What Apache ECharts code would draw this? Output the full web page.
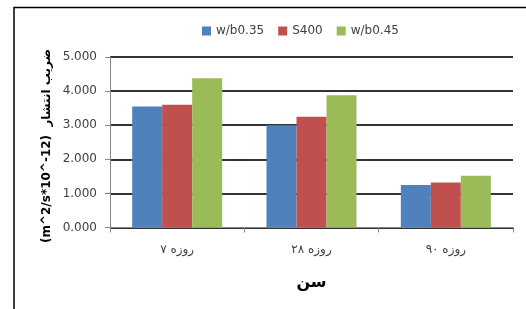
<!DOCTYPE html>
<html><head><meta charset="utf-8">
<script src="https://cdn.jsdelivr.net/npm/echarts@6/dist/echarts.min.js"></script>
<style>html,body{margin:0;padding:0;background:#fff;}#c{width:526px;height:309px;}</style>
</head><body><div id="c"></div>
<script>
const categories = ['۷ روزه', '۲۸ روزه', '۹۰ روزه'];
const seriesNames = ['w/b0.35', 'S400', 'w/b0.45'];
const wb035 = [3.55, 3.00, 1.25];
const s400 = [3.60, 3.25, 1.32];
const wb045 = [4.38, 3.88, 1.52];
const yTicks = { min: 0, max: 5, interval: 1 };
const yName = '(m^2/s*10^-12)  ضریب انتشار';
const xName = 'سن';

const colors = ['#4F81BD', '#C0504D', '#9BBB59'];
const font = 'DejaVu Sans';
const chart = echarts.init(document.getElementById('c'), null, {renderer: 'canvas'});
const values = [wb035, s400, wb045];
chart.setOption({
  animation: false,
  backgroundColor: '#fff',
  textStyle: { fontFamily: font },
  grid: { left: 110, right: 13, top: 57, bottom: 81.5, containLabel: false },
  legend: {
    left: 197, top: 20,
    itemWidth: 9, itemHeight: 9, itemGap: 14,
    icon: 'rect',
    textStyle: { fontFamily: font, fontSize: 12, color: '#404040' },
    data: seriesNames
  },
  xAxis: {
    type: 'category', data: categories,
    name: xName, nameLocation: 'middle', nameGap: 47,
    nameTextStyle: { fontFamily: font, fontSize: 16, fontWeight: 'bold', color: '#000' },
    axisLine: { lineStyle: { color: '#868686', width: 1 } },
    axisTick: { show: true, length: 5, lineStyle: { color: '#868686' } },
    axisLabel: { margin: 16, fontFamily: font, fontSize: 12, color: '#404040' }
  },
  yAxis: {
    type: 'value', min: yTicks.min, max: yTicks.max, interval: yTicks.interval,
    axisLine: { show: true, lineStyle: { color: '#868686' } },
    axisTick: { show: true, length: 5, lineStyle: { color: '#868686' } },
    axisLabel: { margin: 13, fontFamily: font, fontSize: 12, color: '#404040',
      formatter: v => v.toFixed(3) },
    splitLine: { show: true, lineStyle: { color: '#333333', width: 2 } }
  },
  series: values.map((d, i) => ({
    type: 'bar', name: seriesNames[i], data: d,
    barGap: '0%', barCategoryGap: '33%',
    itemStyle: { color: colors[i] }
  })),
  graphic: [{
    type: 'rect', shape: { x: 14, y: 7.5, width: 600, height: 400 },
    style: { fill: 'none', stroke: '#000', lineWidth: 1.5 }, z: 100, silent: true
  }, {
    type: 'text', x: 47, y: 146, rotation: Math.PI / 2,
    style: { text: yName, fontFamily: font, fontSize: 12, fontWeight: 'bold', fill: '#000',
      align: 'center', verticalAlign: 'middle' }, silent: true
  }]
});
</script></body></html>
